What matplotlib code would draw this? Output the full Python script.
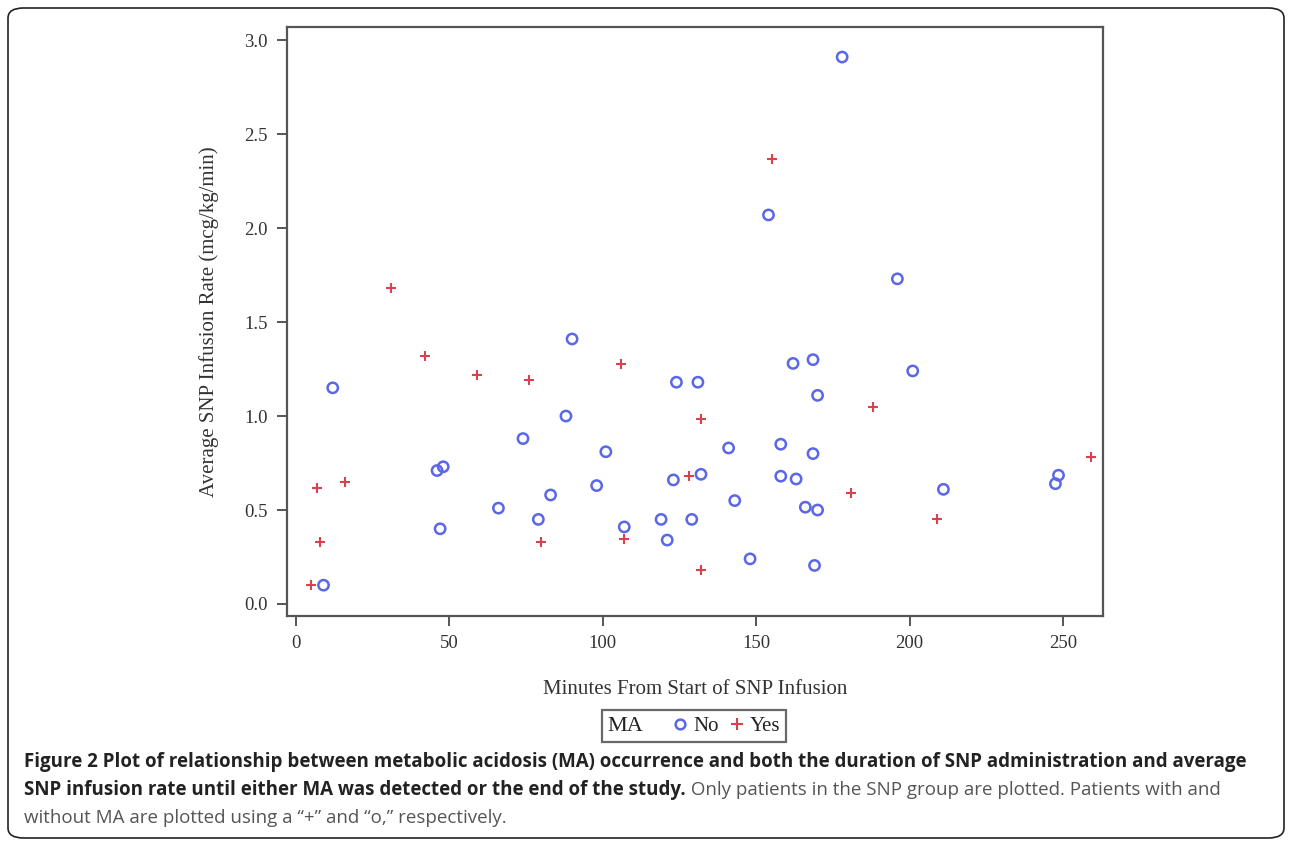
import matplotlib
matplotlib.use("Agg")
import matplotlib.pyplot as plt
from matplotlib.lines import Line2D
from matplotlib.patches import FancyBboxPatch
from matplotlib.offsetbox import HPacker

# MA = No (circles)
no_min = [12, 90, 124, 131, 88, 74, 101, 46, 48, 98, 123, 132, 83, 66, 79, 119, 129, 107, 47, 121, 9,
          162, 168.5, 201, 170, 141, 158, 168.5, 158, 163, 248.5, 247.5, 211, 143, 166, 170, 148, 169,
          178, 154, 196]
no_rate = [1.15, 1.41, 1.18, 1.18, 1.00, 0.88, 0.81, 0.71, 0.73, 0.63, 0.66, 0.69, 0.58, 0.51, 0.45,
           0.45, 0.45, 0.41, 0.40, 0.34, 0.10,
           1.28, 1.30, 1.24, 1.11, 0.83, 0.85, 0.80, 0.68, 0.665, 0.685, 0.64, 0.61, 0.55, 0.515, 0.50,
           0.24, 0.205, 2.91, 2.07, 1.73]

# MA = Yes (plus signs)
yes_min = [31, 42, 59, 76, 106, 7, 16, 128, 8, 80, 107, 5, 132, 188, 259, 181, 209, 132, 155]
yes_rate = [1.68, 1.32, 1.22, 1.19, 1.275, 0.615, 0.65, 0.68, 0.33, 0.33, 0.345, 0.10, 0.985, 1.05,
            0.78, 0.59, 0.45, 0.18, 2.365]

x_ticks = [0, 50, 100, 150, 200, 250]
y_ticks = [0.0, 0.5, 1.0, 1.5, 2.0, 2.5, 3.0]

blue = "#5a68e8"
red = "#d9414f"
serif = "Liberation Serif"

fig = plt.figure(figsize=(12.92, 8.44), dpi=100)

# rounded border round the whole figure
fig.patches.append(FancyBboxPatch((8 / 1292, 6 / 844), 1276 / 1292, 830 / 844,
                                  boxstyle="round,pad=0,rounding_size=0.012",
                                  transform=fig.transFigure, fill=False,
                                  edgecolor="#222222", linewidth=1.2))

ax = fig.add_axes([287 / 1292, 1 - 616 / 844, 816 / 1292, 589 / 844])
ax.scatter(no_min, no_rate, s=55, facecolors="none", edgecolors=blue, linewidths=1.8, zorder=3)
ax.scatter(yes_min, yes_rate, s=55, marker="+", color=red, linewidths=1.5, zorder=3)

ax.set_xlim(-2.9, 263)
ax.set_ylim(-0.064, 3.07)
ax.set_xticks(x_ticks)
ax.set_yticks(y_ticks)
ax.set_yticklabels([f"{v:.1f}" for v in y_ticks])
for s in ax.spines.values():
    s.set_color("#555555")
    s.set_linewidth(1.6)
ax.tick_params(length=7, width=1.4, color="#555555", labelsize=13.5, labelcolor="#333333", pad=7)
for lab in ax.get_xticklabels() + ax.get_yticklabels():
    lab.set_family(serif)

ax.set_xlabel("Minutes From Start of SNP Infusion", fontsize=15, family=serif, color="#333333",
              labelpad=20)
ax.set_ylabel("Average SNP Infusion Rate (mcg/kg/min)", fontsize=15, family=serif, color="#333333",
              labelpad=18)

# legend: "MA" title sits to the left of the entries
handles = [Line2D([], [], linestyle="none", marker="o", markerfacecolor="none",
                  markeredgecolor=blue, markeredgewidth=1.8, markersize=7),
           Line2D([], [], linestyle="none", marker="+", color=red, markeredgewidth=1.5, markersize=8)]
leg = fig.legend(handles, ["No", "Yes"], ncol=2, title="MA", loc="center",
                 bbox_to_anchor=(694 / 1292, 1 - 726 / 844),
                 frameon=True, fancybox=False, handlelength=0.6, handletextpad=0.3, columnspacing=0.6,
                 borderpad=0.3, prop={"family": serif, "size": 15},
                 title_fontproperties={"family": serif, "size": 16})
box = HPacker(pad=leg._legend_box.pad, sep=22, align="baseline",
              children=[leg._legend_title_box, leg._legend_handle_box])
box.set_figure(fig)
box.set_offset(leg._findoffset)
leg._legend_box = box
leg.get_frame().set_edgecolor("#444444")
leg.get_frame().set_linewidth(1.6)
for t in leg.get_texts():
    t.set_color("#222222")
leg.get_title().set_color("#222222")

# caption
cap_font = "Open Sans"
cap_size = 13.5
x0 = 24 / 1292
fig.text(x0, 1 - 762 / 844, "Figure 2 Plot of relationship between metabolic acidosis (MA) occurrence and both the "
         "duration of SNP administration and average", family=cap_font, weight="bold", size=cap_size,
         color="#222222", va="center")
b2 = fig.text(x0, 1 - 790 / 844, "SNP infusion rate until either MA was detected or the end of the study.",
              family=cap_font, weight="bold", size=cap_size, color="#222222", va="center")
fig.canvas.draw()
bb = b2.get_window_extent(fig.canvas.get_renderer())
fig.text(bb.x1 / fig.bbox.width, 1 - 790 / 844,
         " Only patients in the SNP group are plotted. Patients with and",
         family=cap_font, size=cap_size, color="#555555", va="center")
fig.text(x0, 1 - 818 / 844, "without MA are plotted using a \u201c+\u201d and \u201co,\u201d respectively.",
         family=cap_font, size=cap_size, color="#555555", va="center")

fig.savefig("out.png", dpi=100)
